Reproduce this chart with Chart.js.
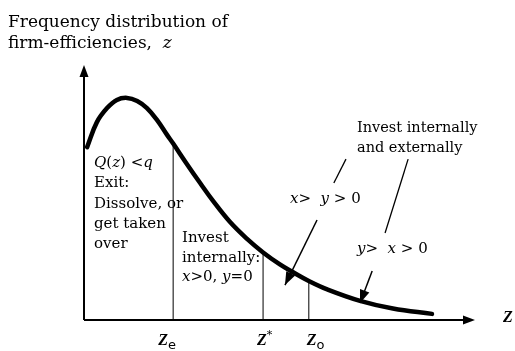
<!DOCTYPE html>
<html>
<head>
<meta charset="utf-8">
<script src="https://cdn.jsdelivr.net/npm/chart.js@4"></script>
<style>
  html, body { margin: 0; padding: 0; background: #fff; }
  #wrap { width: 515px; height: 351px; }
</style>
</head>
<body>
<div id="wrap"><canvas id="chart" width="515" height="351"></canvas></div>
<script>
// efficiency z along x, frequency along y (both axes run 0..10)
const curveZ = [0.08, 0.33, 0.59, 0.84, 1.10, 1.36, 1.61, 1.87, 2.12, 2.28, 2.63, 2.97, 3.30, 3.73, 4.17, 4.58, 5.01, 5.35, 5.75, 6.22, 7.06, 7.90, 8.90];
const curveF = [6.78, 7.76, 8.31, 8.63, 8.71, 8.59, 8.31, 7.84, 7.27, 6.92, 6.12, 5.37, 4.67, 3.85, 3.18, 2.65, 2.18, 1.87, 1.53, 1.20, 0.75, 0.45, 0.24];

// thresholds Ze, Z*, Zo and the height where the line meets the curve
const cutZ = [2.28, 4.58, 5.75];
const cutF = [6.92, 2.62, 1.50];

// plain leader lines from the label up top
const leaderFrom = [[6.70, 6.31], [8.29, 6.31]];
const leaderTo = [[6.39, 5.37], [7.70, 3.41]];

// arrows pointing into the curve
const arrowFrom = [[5.96, 3.92], [7.37, 1.92]];
const arrowTo = [[5.14, 1.37], [7.06, 0.67]];

const axisMax = 10;

const pts = (xs, ys) => xs.map((x, i) => ({ x: x, y: ys[i] }));
const seg = (a, b) => [{ x: a[0], y: a[1] }, { x: b[0], y: b[1] }];

const lineSet = (data, width) => ({
    data: data,
    showLine: true,
    borderColor: '#000',
    borderWidth: width,
    pointRadius: 0,
    clip: false
});

const datasets = [];
datasets.push(Object.assign(lineSet(pts(curveZ, curveF), 4.5), { tension: 0.4, borderCapStyle: 'round' }));
cutZ.forEach((z, i) => datasets.push(lineSet(seg([z, 0], [z, cutF[i]]), 1)));
datasets.push(lineSet(seg([0, 0], [axisMax * 0.985, 0]), 2));
datasets.push(lineSet(seg([0, 0], [0, axisMax * 0.97]), 2));
leaderFrom.forEach((p, i) => datasets.push(lineSet(seg(p, leaderTo[i]), 1.3)));
arrowFrom.forEach((p, i) => datasets.push(lineSet(seg(p, arrowTo[i]), 1.5)));

const SERIF = '"DejaVu Serif", "Liberation Serif", serif';

// draw text made of runs with different fonts
function runs(ctx, x, y, parts) {
    parts.forEach(p => {
        ctx.font = p[1];
        ctx.fillText(p[0], x, y + (p[2] || 0));
        x += ctx.measureText(p[0]).width;
    });
}

function arrowHead(ctx, x0, y0, x1, y1, len, half) {
    const a = Math.atan2(y1 - y0, x1 - x0);
    ctx.beginPath();
    ctx.moveTo(x1, y1);
    ctx.lineTo(x1 - len * Math.cos(a) + half * Math.sin(a), y1 - len * Math.sin(a) - half * Math.cos(a));
    ctx.lineTo(x1 - len * Math.cos(a) - half * Math.sin(a), y1 - len * Math.sin(a) + half * Math.cos(a));
    ctx.closePath();
    ctx.fill();
}

const decor = {
    id: 'decor',
    afterDatasetsDraw(chart) {
        const ctx = chart.ctx;
        const xs = chart.scales.x, ys = chart.scales.y;
        const px = v => xs.getPixelForValue(v), py = v => ys.getPixelForValue(v);
        ctx.save();
        ctx.fillStyle = '#000';

        // axis arrows
        arrowHead(ctx, px(0), py(0), px(axisMax), py(0), 12, 4.5);
        arrowHead(ctx, px(0), py(0), px(0), py(axisMax), 12, 4.5);
        // annotation arrows
        arrowFrom.forEach((p, i) => {
            arrowHead(ctx, px(p[0]), py(p[1]), px(arrowTo[i][0]), py(arrowTo[i][1]), 13, 5);
        });

        ctx.textBaseline = 'alphabetic';
        const up = '17px ' + SERIF;
        const it = 'italic 17px ' + SERIF;
        runs(ctx, 8, 27, [['Frequency distribution of', up]]);
        runs(ctx, 8, 48, [['firm-efficiencies,  ', up], ['z', it]]);

        const f = '15px ' + SERIF, fi = 'italic 15px ' + SERIF;
        runs(ctx, 94, 167, [['Q', fi], ['(', f], ['z', fi], [') <', f], ['q', fi]]);
        runs(ctx, 94, 187, [['Exit:', f]]);
        runs(ctx, 94, 208, [['Dissolve, or', f]]);
        runs(ctx, 94, 228, [['get taken', f]]);
        runs(ctx, 94, 248, [['over', f]]);

        runs(ctx, 182, 242, [['Invest', f]]);
        runs(ctx, 182, 262, [['internally:', f]]);
        runs(ctx, 182, 281, [['x', fi], ['>0, ', f], ['y', fi], ['=0', f]]);

        const f2 = '14.5px ' + SERIF;
        runs(ctx, 357, 132, [['Invest internally', f2]]);
        runs(ctx, 357, 152, [['and externally', f2]]);
        runs(ctx, 290, 203, [['x', fi], ['>  ', f], ['y', fi], [' > 0', f]]);
        runs(ctx, 357, 253, [['y', fi], ['>  ', f], ['x', fi], [' > 0', f]]);

        const zb = 'italic bold 16px "Liberation Serif", serif', sub = '13px "DejaVu Sans", sans-serif';
        runs(ctx, px(cutZ[0]) - 15, 345, [['Z', zb], ['e', sub, 4]]);
        runs(ctx, px(cutZ[1]) - 6, 345, [['Z', zb], ['*', '11px ' + SERIF, -7]]);
        runs(ctx, px(cutZ[2]) - 2, 345, [['Z', zb], ['o', sub, 4]]);
        runs(ctx, 503, 322, [['Z', zb]]);
        ctx.restore();
    }
};

new Chart(document.getElementById('chart'), {
    type: 'scatter',
    data: { datasets: datasets },
    options: {
        responsive: false,
        animation: false,
        layout: { padding: { left: 84, right: 40, top: 65, bottom: 31 } },
        plugins: { legend: { display: false }, tooltip: { enabled: false } },
        scales: {
            x: { type: 'linear', min: 0, max: axisMax, display: false },
            y: { type: 'linear', min: 0, max: axisMax, display: false }
        }
    },
    plugins: [decor]
});
</script>
</body>
</html>
